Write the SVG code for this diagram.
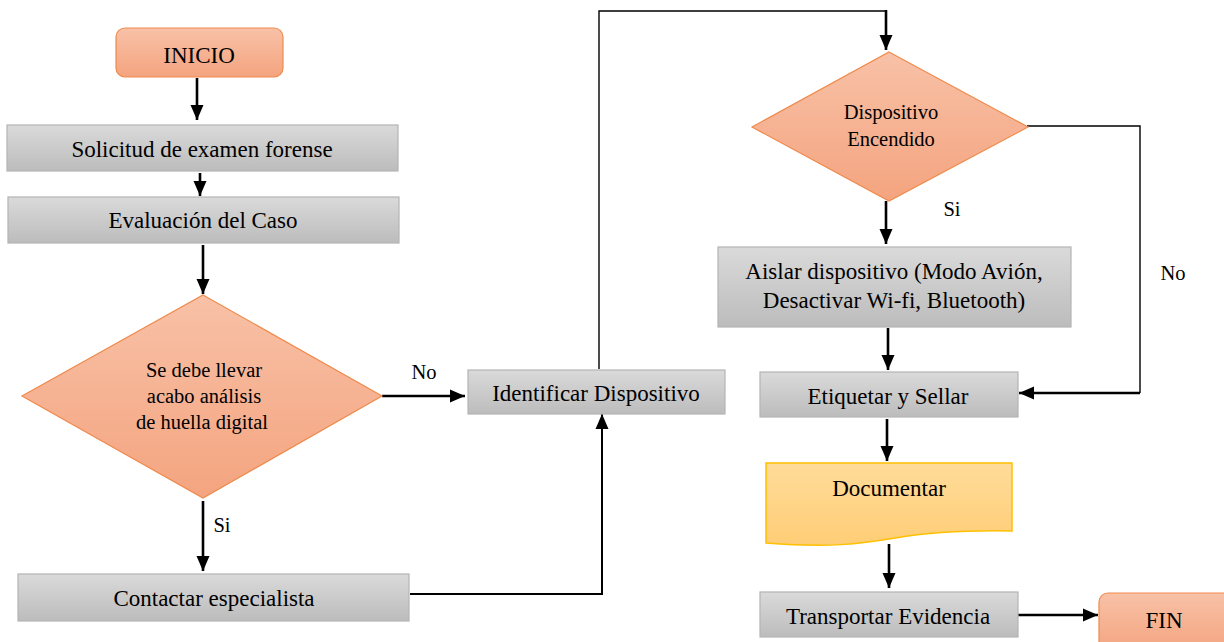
<svg xmlns="http://www.w3.org/2000/svg" width="1224" height="642" viewBox="0 0 1224 642">
<defs>
<linearGradient id="gOr" x1="0" y1="0" x2="0" y2="1"><stop offset="0" stop-color="#f8c1a7"/><stop offset="1" stop-color="#f4a47f"/></linearGradient>
<linearGradient id="gGr" x1="0" y1="0" x2="0" y2="1"><stop offset="0" stop-color="#dadada"/><stop offset="1" stop-color="#bcbcbc"/></linearGradient>
<linearGradient id="gYe" x1="0" y1="0" x2="0" y2="1"><stop offset="0" stop-color="#ffdc9a"/><stop offset="1" stop-color="#ffcd76"/></linearGradient>
<marker id="ah" markerUnits="userSpaceOnUse" markerWidth="16" markerHeight="16" viewBox="0 0 16 16" refX="15" refY="8" orient="auto"><path d="M0,1.5 L15,8 L0,14.5 Z" fill="#000"/></marker>
<style>
.or{fill:url(#gOr);stroke:#ef8a4c;stroke-width:1.2}
.gr{fill:url(#gGr);stroke:#b4b4b4;stroke-width:1.2}
.ye{fill:url(#gYe);stroke:#ffc000;stroke-width:1.5}
text{font-family:"Liberation Serif","Times New Roman",serif;fill:#000;text-anchor:middle}
.t{font-size:23px}
.d{font-size:20.5px}
.l{font-size:20.5px}
.c{fill:none;stroke:#000}
.a{stroke-width:2.6;marker-end:url(#ah)}
.n{stroke-width:1.4}
</style>
</defs>
<g id="connectors">
<line class="c a" x1="197" y1="78" x2="197" y2="120"/>
<line class="c a" x1="200" y1="173" x2="200" y2="196"/>
<line class="c a" x1="203" y1="245" x2="203" y2="294"/>
<line class="c a" x1="382" y1="396" x2="465" y2="396"/>
<line class="c a" x1="203" y1="501" x2="203" y2="571"/>
<polyline class="c a" style="stroke-width:2" points="410,594 602,594 602,414"/>
<polyline class="c n" points="599,369 599,11 886,11"/>
<line class="c a" x1="886" y1="10" x2="886" y2="50"/>
<polyline class="c n" points="1027,126 1140,126 1140,393"/>
<polyline class="c a" points="1140,393 1019,393"/>
<line class="c a" x1="886" y1="201" x2="886" y2="244"/>
<line class="c a" x1="888" y1="328" x2="888" y2="370"/>
<line class="c a" x1="887" y1="419" x2="887" y2="461"/>
<line class="c a" x1="889" y1="544" x2="889" y2="588"/>
<line class="c a" x1="1018" y1="615" x2="1098" y2="615"/>
<text class="l" x="424" y="379">No</text>
<text class="l" x="222" y="532">Si</text>
<text class="l" x="952" y="216">Si</text>
<text class="l" x="1173" y="280">No</text>
</g>
<g id="inicio"><rect class="or" x="116" y="28" width="167" height="49" rx="9"/><text class="t" x="199" y="63">INICIO</text></g>
<g id="solicitud"><rect class="gr" x="7" y="125" width="391" height="46"/><text class="t" x="202" y="157">Solicitud de examen forense</text></g>
<g id="evaluacion"><rect class="gr" x="8" y="197" width="391" height="46"/><text class="t" x="203" y="228">Evaluación del Caso</text></g>
<g id="decision1"><polygon class="or" points="203,295 382,396 203,498 22,396"/><text class="d" x="204" y="377">Se debe llevar</text><text class="d" x="204" y="403">acabo análisis</text><text class="d" x="202" y="429">de huella digital</text></g>
<g id="contactar"><rect class="gr" x="18" y="574" width="391" height="47"/><text class="t" x="214" y="606">Contactar especialista</text></g>
<g id="identificar"><rect class="gr" x="468" y="370" width="257" height="44"/><text class="t" x="596" y="401">Identificar Dispositivo</text></g>
<g id="decision2"><polygon class="or" points="889,52 1028,127 889,201 752,127"/><text class="d" x="891" y="119">Dispositivo</text><text class="d" x="891" y="146">Encendido</text></g>
<g id="aislar"><rect class="gr" x="718" y="247" width="353" height="80"/><text class="t" x="894" y="279">Aislar dispositivo (Modo Avión,</text><text class="t" x="894" y="308">Desactivar Wi-fi, Bluetooth)</text></g>
<g id="etiquetar"><rect class="gr" x="760" y="372" width="258" height="45"/><text class="t" x="888" y="404">Etiquetar y Sellar</text></g>
<g id="documentar"><path class="ye" d="M766,463 H1012 V531 C960,530 925,533 895,538 C860,544 830,548 766,543 Z"/><text class="t" x="889" y="496">Documentar</text></g>
<g id="transportar"><rect class="gr" x="760" y="592" width="258" height="45"/><text class="t" x="888" y="624">Transportar Evidencia</text></g>
<g id="fin"><rect class="or" x="1099" y="593" width="140" height="60" rx="9"/><text class="t" x="1164" y="628">FIN</text></g>
</svg>
